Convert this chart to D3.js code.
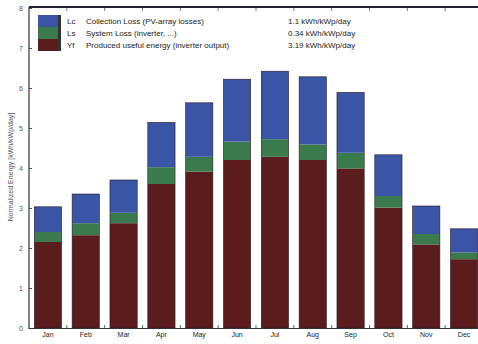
<!DOCTYPE html>
<html>
<head>
<meta charset="utf-8">
<script src="https://cdn.jsdelivr.net/npm/d3@7"></script>
<style>
  body { margin: 0; background: #fff; }
  svg { display: block; font-family: "Liberation Sans", Arial, sans-serif; }
</style>
</head>
<body>
<svg width="478" height="344"></svg>
<script>
const months = ['Jan', 'Feb', 'Mar', 'Apr', 'May', 'Jun', 'Jul', 'Aug', 'Sep', 'Oct', 'Nov', 'Dec'];
// kWh/kWp/day
const yf = [2.15, 2.32, 2.62, 3.60, 3.91, 4.20, 4.28, 4.20, 3.99, 3.01, 2.09, 1.72];
const ls = [0.25, 0.30, 0.26, 0.42, 0.37, 0.46, 0.44, 0.39, 0.39, 0.29, 0.26, 0.17];
const lc = [0.63, 0.73, 0.82, 1.12, 1.35, 1.56, 1.70, 1.69, 1.51, 1.03, 0.70, 0.59];
const yTicks = [0, 1, 2, 3, 4, 5, 6, 7, 8];

const legendKeys = ['Lc', 'Ls', 'Yf'];
const legendNames = ['Collection Loss (PV-array losses)', 'System Loss  (inverter, ...)', 'Produced useful energy  (inverter output)'];
const legendValues = ['1.1 kWh/kWp/day', '0.34 kWh/kWp/day', '3.19 kWh/kWp/day'];
const colors = { Yf: '#5b1c1e', Ls: '#3a7a4c', Lc: '#3a55a6' };

const svg = d3.select('svg');

const x = d3.scaleBand().domain(months).range([29, 483]).paddingInner(0.28).paddingOuter(0.14);
const y = d3.scaleLinear().domain([0, 8]).range([328, 8]);

const rows = months.map((m, i) => ({ month: m, Yf: yf[i], Ls: ls[i], Lc: lc[i] }));
const stack = d3.stack().keys(['Yf', 'Ls', 'Lc'])(rows);

svg.append('g').selectAll('g').data(stack)
  .enter().append('g')
    .attr('fill', d => colors[d.key])
  .selectAll('rect').data(d => d)
  .enter().append('rect')
    .attr('x', d => x(d.data.month))
    .attr('width', x.bandwidth())
    .attr('y', d => y(d[1]))
    .attr('height', d => y(d[0]) - y(d[1]));

// thin dark outline round each bar
svg.append('g').selectAll('rect').data(rows)
  .enter().append('rect')
    .attr('x', d => x(d.month))
    .attr('width', x.bandwidth())
    .attr('y', d => y(d.Yf + d.Ls + d.Lc))
    .attr('height', d => y(0) - y(d.Yf + d.Ls + d.Lc))
    .attr('fill', 'none')
    .attr('stroke', '#2a1a20')
    .attr('stroke-width', 0.6);

// axes
const yAxis = svg.append('g')
  .attr('transform', 'translate(29,0)')
  .call(d3.axisRight(y).tickValues(yTicks).tickSize(3).tickFormat(''));
yAxis.select('.domain').remove();
yAxis.selectAll('line').attr('stroke', '#555');

svg.append('g').selectAll('text').data(yTicks)
  .enter().append('text')
    .attr('x', 23)
    .attr('y', d => y(d) + 2.5)
    .attr('text-anchor', 'end')
    .attr('font-size', 7)
    .attr('fill', '#555')
    .text(d => d);

const step = x.step();
const bounds = d3.range(1, 13).map(i => 29 + i * step);
svg.append('g').selectAll('line').data(bounds)
  .enter().append('line')
    .attr('x1', d => d).attr('x2', d => d)
    .attr('y1', 328).attr('y2', 325)
    .attr('stroke', '#3a7a4c');
svg.append('g').selectAll('line').data(bounds)
  .enter().append('line')
    .attr('x1', d => d).attr('x2', d => d)
    .attr('y1', 8).attr('y2', 11)
    .attr('stroke', '#777');

svg.append('g').selectAll('text').data(months)
  .enter().append('text')
    .attr('x', d => x(d) + x.bandwidth() / 2)
    .attr('y', 337)
    .attr('text-anchor', 'middle')
    .attr('font-size', 7)
    .attr('fill', '#222')
    .text(d => d);

svg.append('line').attr('x1', 29).attr('x2', 29).attr('y1', 7).attr('y2', 329)
  .attr('stroke', '#333').attr('stroke-width', 1.2);
svg.append('line').attr('x1', 29).attr('x2', 478).attr('y1', 328.5).attr('y2', 328.5)
  .attr('stroke', '#333').attr('stroke-width', 1);
svg.append('line').attr('x1', 29).attr('x2', 478).attr('y1', 7).attr('y2', 7)
  .attr('stroke', '#223').attr('stroke-width', 2);

svg.append('text')
  .attr('transform', 'translate(13,167) rotate(-90)')
  .attr('text-anchor', 'middle')
  .attr('font-size', 7)
  .attr('fill', '#555')
  .text('Normalized Energy [kWh/kWp/day]');

// legend
const lg = svg.append('g');
const swatchY = d3.scaleBand().domain(legendKeys).range([15, 51]);
lg.selectAll('rect.sw').data(legendKeys)
  .enter().append('rect')
    .attr('class', 'sw')
    .attr('x', 38).attr('width', 20)
    .attr('y', d => swatchY(d))
    .attr('height', swatchY.bandwidth())
    .attr('fill', d => colors[d]);
lg.append('rect').attr('x', 58).attr('y', 15).attr('width', 3).attr('height', 36).attr('fill', '#333');

const rowY = d => swatchY(d) + swatchY.bandwidth() / 2 + 3;
lg.selectAll('text.k').data(legendKeys)
  .enter().append('text')
    .attr('x', 67).attr('y', rowY)
    .attr('font-size', 8).attr('fill', '#222')
    .text(d => d);
lg.selectAll('text.n').data(legendKeys)
  .enter().append('text')
    .attr('x', 86).attr('y', rowY)
    .attr('font-size', 8).attr('fill', '#222')
    .text((d, i) => legendNames[i]);
lg.selectAll('text.v').data(legendKeys)
  .enter().append('text')
    .attr('x', 288).attr('y', rowY)
    .attr('font-size', 8).attr('fill', '#222')
    .text((d, i) => legendValues[i]);
</script>
</body>
</html>
